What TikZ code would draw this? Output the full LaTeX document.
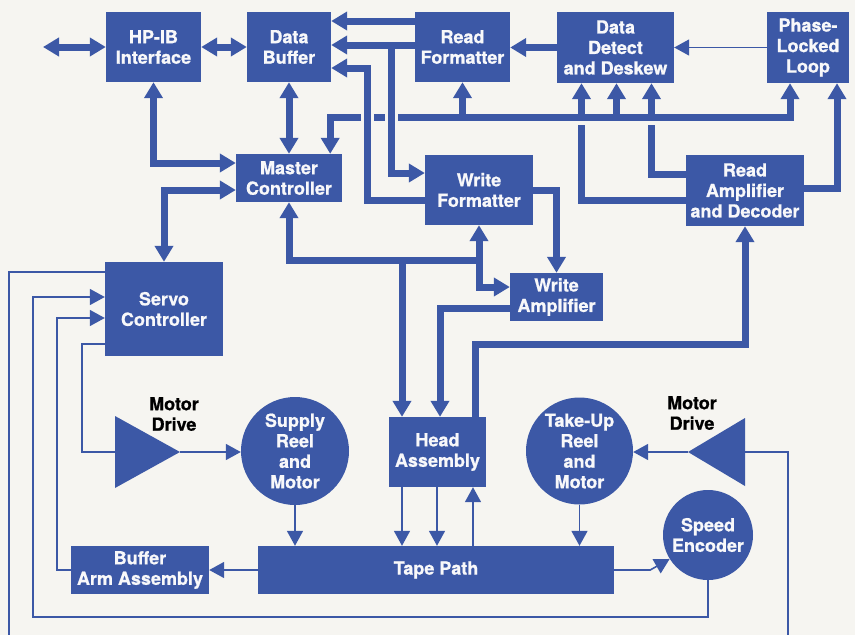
\documentclass[tikz,border=0pt]{standalone}
\usepackage{fontspec}
\setmainfont{TeX Gyre Heros}[BoldFeatures={FakeBold=0.8}]
\usetikzlibrary{arrows.meta,calc}
\definecolor{hpblue}{RGB}{60,88,166}
\definecolor{bgc}{RGB}{246,245,241}
\definecolor{txtw}{RGB}{248,248,250}
\newcommand\hpfnt{\fontsize{18}{20.5}\selectfont\bfseries}
\begin{document}
\begin{tikzpicture}[x=1pt,y=-1pt,
  >={Triangle[length=16pt,width=18pt]},
  blk/.style={fill=hpblue,text=txtw,font=\hpfnt,align=center,inner sep=0pt,rectangle},
  circ/.style={blk,circle},
  thk/.style={draw=hpblue,line width=7pt},
  thn/.style={draw=hpblue,line width=1.6pt,>={Triangle[length=15pt,width=16pt]}},
  gapx/.style={draw=bgc,line width=13pt},
  lbl/.style={text=black,font=\hpfnt,align=center,inner sep=0pt}]
\fill[bgc] (0,0) rectangle (855,635);
\useasboundingbox (0,0) rectangle (855,635);

% blocks
\node[blk,minimum width=95pt,minimum height=70pt] (hpib) at (153.5,47) {HP-IB\\Interface};
\node[blk,minimum width=84pt,minimum height=70pt] (dbuf) at (289,47) {Data\\Buffer};
\node[blk,minimum width=95pt,minimum height=70pt] (rfmt) at (462.5,47) {Read\\Formatter};
\node[blk,minimum width=117pt,minimum height=71pt] (ddet) at (615.5,47.5) {Data\\Detect\\and Deskew};
\node[blk,minimum width=82pt,minimum height=71pt] (pll) at (808,47.5) {Phase-\\Locked\\Loop};
\node[blk,minimum width=106pt,minimum height=48pt] (mc) at (289,178) {Master\\Controller};
\node[blk,minimum width=108pt,minimum height=70pt] (wf) at (479,190) {Write\\Formatter};
\node[blk,minimum width=118pt,minimum height=71pt] (ra) at (745,190.5) {Read\\Amplifier\\and Decoder};
\node[blk,minimum width=118pt,minimum height=94pt] (servo) at (164,309) {Servo\\Controller};
\node[blk,minimum width=93pt,minimum height=48pt] (wa) at (556.5,297) {Write\\Amplifier};
\node[blk,minimum width=97pt,minimum height=70pt] (ha) at (437.5,452) {Head\\Assembly};
\node[blk,minimum width=356pt,minimum height=48pt] (tp) at (436,570) {Tape Path};
\node[blk,minimum width=138pt,minimum height=48pt] (ba) at (140,570) {Buffer\\Arm Assembly};
\node[circ,minimum size=108pt] (supply) at (295,451) {Supply\\Reel\\and\\Motor};
\node[circ,minimum size=107pt] (takeup) at (579.5,451) {Take-Up\\Reel\\and\\Motor};
\node[circ,minimum size=90pt] (spenc) at (708,535) {Speed\\Encoder};

% motor drive amplifiers
\fill[hpblue] (115,416) -- (115,488) -- (180,452) -- cycle;
\coordinate (mdlback) at (115,452); \coordinate (mdlapex) at (180,452);
\fill[hpblue] (745,418) -- (745,486) -- (688,452) -- cycle;
\coordinate (mdrback) at (745,452); \coordinate (mdrapex) at (688,452);
\node[lbl] (mdlt) at (174,414) {Motor\\Drive};
\node[lbl] (mdrt) at (692,413) {Motor\\Drive};

% helper coordinates
\coordinate (bus) at (0,117);
\coordinate (d1) at ($(ddet.south)+(-34,0)$);
\coordinate (d2) at ($(ddet.south)+(1,0)$);
\coordinate (d3) at ($(ddet.south)+(36,0)$);
\coordinate (p1) at ($(pll.south)+(-18,0)$);
\coordinate (p2) at ($(pll.south)+(29,0)$);
\coordinate (m1) at ($(mc.north east)+(-12,0)$);
\coordinate (v1) at ($(dbuf.east)+(36,21)$);
\coordinate (v2) at ($(rfmt.west)+(-23,-2)$);
\coordinate (ext) at (43,47);

% host side
\draw[thk,<->] (ext) -- (hpib.west);
\draw[thk,<->] (hpib.east) -- (dbuf.west);
\draw[thk,<->] (hpib.south) |- ($(mc.west)+(0,-15)$);
\draw[thk,<->] (dbuf.south) -- (mc.north);
\draw[thk,<->] ($(mc.west)+(0,12)$) -| (servo.north);

% control bus
\draw[thk,<->] (m1) |- (p1 |- bus) -- (p1);
\foreach \c in {d1,d2,d3} \draw[thk,->] (\c |- bus) -- (\c);
\draw[thk,->] (rfmt.south |- bus) -- (rfmt.south);
\draw[gapx] ($(v1 |- bus)+(0,-6)$) -- ($(v1 |- bus)+(0,6)$);
\draw[gapx] ($(v2 |- bus)+(0,-6)$) -- ($(v2 |- bus)+(0,6)$);

% data paths
\draw[thk,->] ($(rfmt.west)+(0,-26)$) -- ($(dbuf.east)+(0,-26)$);
\draw[thk,->] ($(rfmt.west)+(0,-2)$) -- ($(dbuf.east)+(0,-2)$);
\draw[thk,->] (v2) |- ($(wf.west)+(0,-17)$);
\draw[thk,->] ($(wf.west)+(0,10)$) -| (v1) -- ($(dbuf.east)+(0,21)$);
\draw[thk,->] (ddet.west) -- (ddet.west -| rfmt.east);
\draw[thn,->] (pll.west) -- (ddet.east);
\draw[thk] ($(ra.west)+(0,-16)$) -| ($(d3 |- bus)+(0,8)$);
\draw[thk] ($(ra.west)+(0,10)$) -| ($(d1 |- bus)+(0,8)$);
\draw[thk,->] ($(ra.east)+(0,-2)$) -| (p2);

% head connections
\coordinate (h1) at ($(ha.north)+(-35.5,0)$);
\coordinate (h3) at ($(ha.north)+(37.5,0)$);
\coordinate (yra) at (0,344);
\coordinate (y260) at (0,260);
\draw[thk,->] (h3) -- (h3 |- yra) -| (ra.south);
\draw[thk,->] ($(wa.west)+(0,11)$) -| ($(ha.north)+(2.5,0)$);
\draw[thk,->] (wf.east) -| (wa.north);
\draw[thk,->] (wf.south |- y260) -| (mc.south);
\draw[thk,<->] (wf.south) |- ($(wa.west)+(0,-10)$);
\draw[thk,->] (h1 |- y260) -- (h1);

% tape transport
\coordinate (hb1) at ($(ha.south)+(-35.5,0)$);
\coordinate (hb2) at ($(ha.south)+(-0.5,0)$);
\coordinate (hb3) at ($(ha.south)+(35.5,0)$);
\draw[thn,->] (hb1) -- (hb1 |- tp.north);
\draw[thn,->] (hb2) -- (hb2 |- tp.north);
\draw[thn,<-] (hb3) -- (hb3 |- tp.north);
\draw[thn,->] (supply.south) -- (supply.south |- tp.north);
\draw[thn,->] (takeup.south) -- (takeup.south |- tp.north);
\draw[thn,->] (tp.west) -- (ba.east);
\draw[thn,->] (tp.east) -- ++(36,0) -- (spenc.212);

% servo loops
\coordinate (la) at (33,617);
\coordinate (lb) at (57,318);
\coordinate (lc) at (82,452);
\coordinate (ld) at (9,635);
\coordinate (le) at (788,635);
\draw[thn,->] (spenc.south) |- (la) |- ($(servo.west)+(0,-12)$);
\draw[thn,->] (ba.west) -| (lb) -- ($(servo.west)+(0,9)$);
\draw[thn] ($(servo.west)+(0,35)$) -| (lc) -- (mdlback);
\draw[thn] ($(servo.west)+(0,-37)$) -| (ld);
\draw[thn] (mdrback) -| (le);
\draw[thn,->] (mdlapex) -- (mdlapex -| supply.west);
\draw[thn,->] (mdrapex) -- (mdrapex -| takeup.east);
\end{tikzpicture}
\end{document}
